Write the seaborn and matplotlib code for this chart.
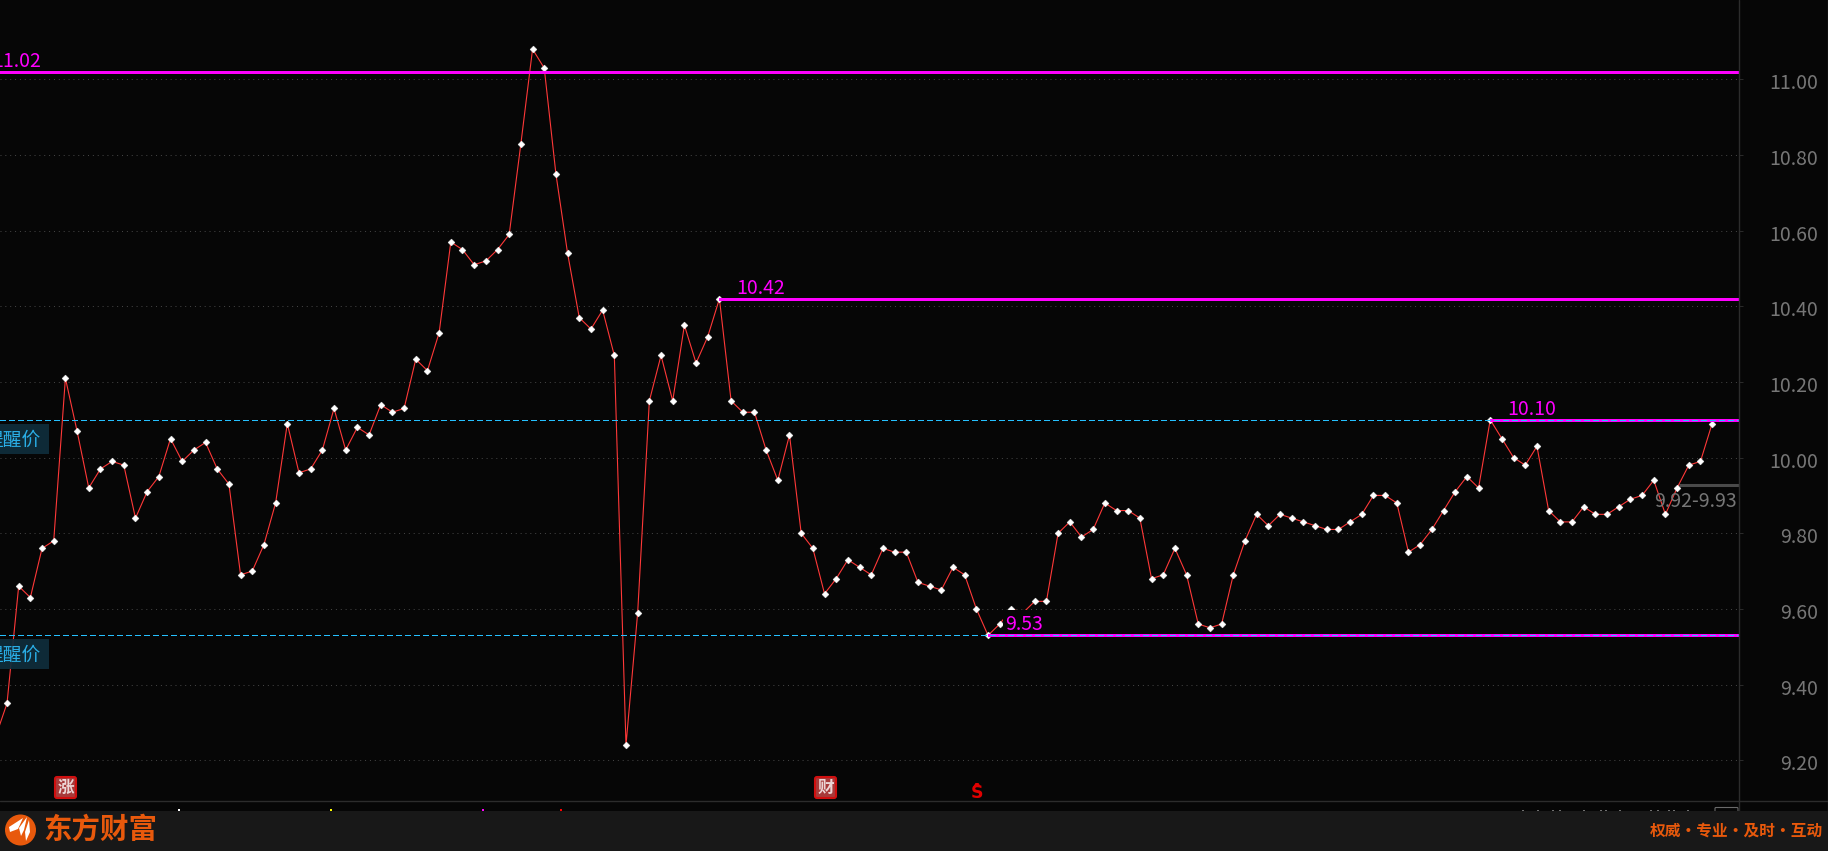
import matplotlib
matplotlib.use('Agg')
import matplotlib.pyplot as plt
from matplotlib.patches import Circle, FancyBboxPatch, Polygon, Rectangle
from matplotlib.transforms import ScaledTranslation
import numpy as np
import pandas as pd
import seaborn as sns

# prices, first one sits just outside the left edge
prices = [
    9.26, 9.35, 9.66, 9.63, 9.76, 9.78, 10.21, 10.07, 9.92, 9.97, 9.99, 9.98, 9.84, 9.91, 9.95,
    10.05, 9.99, 10.02, 10.04, 9.97, 9.93, 9.69, 9.70, 9.77, 9.88, 10.09, 9.96, 9.97, 10.02, 10.13,
    10.02, 10.08, 10.06, 10.14, 10.12, 10.13, 10.26, 10.23, 10.33, 10.57, 10.55, 10.51, 10.52, 10.55, 10.59,
    10.83, 11.08, 11.03, 10.75, 10.54, 10.37, 10.34, 10.39, 10.27, 9.24, 9.59, 10.15, 10.27, 10.15, 10.35,
    10.25, 10.32, 10.42, 10.15, 10.12, 10.12, 10.02, 9.94, 10.06, 9.80, 9.76, 9.64, 9.68, 9.73, 9.71,
    9.69, 9.76, 9.75, 9.75, 9.67, 9.66, 9.65, 9.71, 9.69, 9.60, 9.53, 9.56, 9.60, 9.59, 9.62,
    9.62, 9.80, 9.83, 9.79, 9.81, 9.88, 9.86, 9.86, 9.84, 9.68, 9.69, 9.76, 9.69, 9.56, 9.55,
    9.56, 9.69, 9.78, 9.85, 9.82, 9.85, 9.84, 9.83, 9.82, 9.81, 9.81, 9.83, 9.85, 9.90, 9.90,
    9.88, 9.75, 9.77, 9.81, 9.86, 9.91, 9.95, 9.92, 10.10, 10.05, 10.00, 9.98, 10.03, 9.86, 9.83,
    9.83, 9.87, 9.85, 9.85, 9.87, 9.89, 9.90, 9.94, 9.85, 9.92, 9.98, 9.99, 10.09,
]
y_ticks = [9.20, 9.40, 9.60, 9.80, 10.00, 10.20, 10.40, 10.60, 10.80, 11.00]
peak_levels = [11.02, 10.42, 10.10, 9.53]
alert_levels = [10.10, 9.53]
quote_level = 9.928
quote_text = '9.92-9.93'
alert_text = '提醒价'
brand_text = '东方财富'
slogan_text = '权威·专业·及时·互动'

BG = '#060606'
FOOTER = '#181818'
ORANGE = '#e8590c'
MAGENTA = '#ff00ff'
CYAN = '#25c0ff'
GREY = '#767676'
FRAME = '#2c2c2c'
CJK = ['Noto Sans CJK SC', 'DejaVu Sans']

sns.set_theme(style='dark', rc={'axes.facecolor': BG, 'figure.facecolor': BG})
plt.rcParams['font.family'] = CJK

df = pd.DataFrame({'idx': np.arange(len(prices)) - 1, 'price': prices})

fig = plt.figure(figsize=(18.28, 8.51), dpi=100)
ax = fig.add_axes([0, 50 / 851, 1739 / 1828, 801 / 851])

sns.lineplot(data=df, x='idx', y='price', ax=ax, color='#ff3838', linewidth=0.8,
             marker='D', markersize=3.5, markerfacecolor='white', markeredgecolor='white',
             markeredgewidth=0.3, zorder=3, errorbar=None)

# resistance / support lines start at the bar that made the level
for level in peak_levels:
    hits = df.index[(df['price'] - level).abs() < 0.001]
    start = df['idx'][hits[0]] if level != 11.02 else -1
    ax.plot([start, 149], [level, level], color=MAGENTA, lw=2.0, zorder=4,
            solid_capstyle='butt', antialiased=False)
for level in alert_levels:
    ax.axhline(level, color=CYAN, lw=0.9, ls=(0, (4, 3)), zorder=5, antialiased=False)
# spread marker by the last price
ax.plot([143.2, 149], [quote_level, quote_level], color='#4a4a4a', lw=2.2, zorder=2,
        solid_capstyle='butt')

ax.set_xlim(-0.6, 148.3)
ax.set_ylim(9.092, 11.21)
ax.set_xticks([])
ax.set_yticks(y_ticks)
ax.set_yticklabels([f'{t:.2f}' for t in y_ticks])
ax.set_xlabel('')
ax.set_ylabel('')
ax.yaxis.tick_right()
ax.tick_params(axis='y', length=3, width=0.7, color=FRAME, labelcolor=GREY, labelsize=14, pad=54)
nudge = ScaledTranslation(0, -2 / 100, fig.dpi_scale_trans)
for lab in ax.get_yticklabels():
    lab.set_ha('right')
    lab.set_transform(lab.get_transform() + nudge)
ax.grid(axis='y', color='#484848', lw=0.7, ls=(0, (1, 4)))
ax.grid(axis='x', visible=False)
for name, sp in ax.spines.items():
    sp.set_visible(False)

# overlay in pixel coordinates for the terminal chrome
ov = fig.add_axes([0, 0, 1, 1], zorder=5)
ov.set_xlim(0, 1828)
ov.set_ylim(851, 0)
ov.axis('off')
ov.patch.set_alpha(0)

# level labels
ov.text(41, 67, '11.02', color=MAGENTA, fontsize=14, ha='right', va='baseline', clip_on=True)
ov.text(736, 294, '10.42', color=MAGENTA, fontsize=14, va='baseline')
ov.text(1507, 415, '10.10', color=MAGENTA, fontsize=14, va='baseline')
ov.add_patch(Rectangle((1003, 610), 39, 23, fc=BG, ec='none'))
ov.text(1005, 630, '9.53', color=MAGENTA, fontsize=14, va='baseline')
ov.text(1737, 507, quote_text, color=GREY, fontsize=14, ha='right', va='baseline')

# alert tags, cut by the left edge
for top in [424, 639]:
    ov.add_patch(Rectangle((0, top), 49, 30, fc='#0f2e3c', ec='none', alpha=0.92))
    ov.text(41, top + 16.5, alert_text, color='#2aaee6', fontsize=13.5, ha='right', va='center',
            clip_on=True)

# event badges
for x, ch in [(54, '涨'), (814, '财')]:
    ov.add_patch(FancyBboxPatch((x + 1, 777), 21, 21, boxstyle='round,pad=0,rounding_size=2',
                                fc='#a83a3a', ec='#d00f0f', lw=1.5))
    ov.text(x + 11.5, 787.5, ch, color='#ecd6d6', fontsize=12, fontweight='bold', ha='center',
            va='center')
ov.add_patch(Polygon([[973, 787], [975.5, 783], [978.5, 783], [981, 787]], fc='#e00000', ec='none'))
ov.text(977, 793, 'S', color='#e00000', fontsize=12.5, fontweight='bold', family='DejaVu Sans',
        ha='center', va='center')

# strip under the chart, legend is cut off by the footer
ov.plot([0, 1828], [801, 801], color=FRAME, lw=1)
ov.plot([1739, 1739], [0, 811], color=FRAME, lw=1)
ov.plot([1827.5, 1827.5], [0, 811], color=FRAME, lw=1)
for x, c in [(178, 'white'), (330, 'yellow'), (482, MAGENTA), (560, 'red')]:
    ov.add_patch(Rectangle((x, 809), 2, 2, fc=c, ec='none'))
for x in [1522, 1537, 1552, 1559, 1583, 1600, 1605, 1619, 1650, 1657, 1668, 1673, 1687]:
    ov.add_patch(Rectangle((x, 810), 2, 1, fc='#707070', ec='none'))
ov.add_patch(FancyBboxPatch((1715, 807.5), 23, 8, boxstyle='round,pad=0,rounding_size=1',
                            fc='none', ec='#6a6a6a', lw=0.8))

# footer with logo
ov.add_patch(Rectangle((0, 811), 1828, 40, fc=FOOTER, ec='none', zorder=3))
ov.add_patch(Circle((20.5, 830), 15.5, fc=ORANGE, ec='none', zorder=4))
for wing in [
    [[23, 818], [9, 827], [10, 832], [18, 829]],
    [[27, 817], [19, 828], [21, 836], [24, 830]],
    [[29, 820], [25, 832], [26, 841], [30, 832]],
]:
    ov.add_patch(Polygon(wing, fc='white', ec='none', zorder=5))
ov.text(43, 830, brand_text, color=ORANGE, fontsize=20.5, fontweight='bold', va='center', zorder=5)
ov.text(1823, 831, slogan_text, color=ORANGE, fontsize=11.3, fontweight='bold', ha='right',
        va='center', zorder=5)

fig.savefig('out.png', dpi=100, facecolor=BG)
